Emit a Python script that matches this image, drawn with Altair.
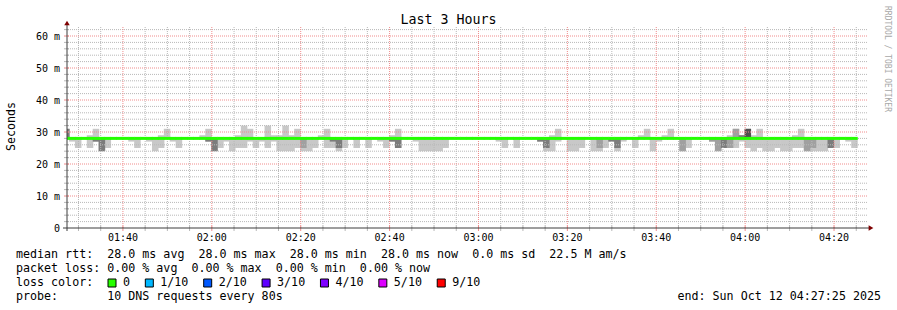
import altair as alt
import pandas as pd

# ---------------- data ----------------
title_text = "Last 3 Hours"
y_title = "Seconds"
watermark = "RRDTOOL / TOBI OETIKER"

window_start = "01:27:25"
window_end = "04:27:25"
first_step = "01:26:32"      # first (partly visible) 80 s step
step_seconds = 80

# smoke spread per 80 s step (ms), steps -1 .. 132 ; None = no spread
smoke_lo = [28, 27, 25, None, 25, 27, 24, 25, None, None,
            None, 27, 25, None, 27, 24, 25, 28, 27, 25,
            None, None, None, 28, 27, 24, 25, 27, 24, 25,
            25, 27, 25, 27, 25, 27, 24, 24, 24, 25,
            24, 24, 25, 28, 25, 25, 24, 25, None, 25,
            None, 25, None, 27, 25, 27, 25, None, None, 27,
            24, 24, 24, 24, 25, None, None, None, None, None,
            None, None, None, 27, 25, None, 25, None, None, None,
            27, 24, 24, 27, None, 24, 24, 25, None, 24,
            24, 25, 27, 24, 27, None, 25, 28, 28, 24,
            27, 28, 28, None, 24, 25, None, None, None, 27,
            24, 25, 25, 25, 27, 25, 24, 25, 24, 24,
            25, 24, 24, 25, 25, 24, 24, 24, 24, 25,
            25, None, 27, 25]
smoke_hi = [31, 28, 28, None, 29, 31, 28, 28, None, None,
            None, 28, 28, None, 28, 28, 29, 31, 28, 28,
            None, None, None, 29, 31, 28, 28, 28, 28, 29,
            32, 31, 28, 28, 32, 29, 29, 32, 29, 31,
            28, 28, 28, 29, 31, 28, 28, 28, None, 28,
            None, 28, None, 28, 28, 29, 31, None, None, 28,
            28, 28, 28, 28, 28, None, None, None, None, None,
            None, None, None, 28, 28, None, 28, None, None, None,
            28, 28, 29, 31, None, 28, 28, 28, None, 28,
            28, 28, 28, 28, 28, None, 28, 29, 31, 28,
            28, 29, 31, None, 28, 28, None, None, None, 28,
            28, 28, 29, 31, 29, 31, 29, 31, 28, 28,
            28, 28, 28, 29, 31, 28, 28, 28, 28, 28,
            28, None, 28, 28]
median_rtt = [28.0, 28.0, 28.0, 28.0, 28.0, 28.0, 28.0, 28.0, 28.0, 28.0,
              28.0, 28.0, 28.0, 28.0, 28.0, 28.0, 28.0, 28.0, 28.0, 28.0,
              28.0, 28.0, 28.0, 28.0, 28.0, 28.0, 28.0, 28.0, 28.0, 28.0,
              28.0, 28.0, 28.0, 28.0, 28.0, 28.0, 28.0, 28.0, 28.0, 28.0,
              28.0, 28.0, 28.0, 28.0, 28.0, 28.0, 28.0, 28.0, 28.0, 28.0,
              28.0, 28.0, 28.0, 28.0, 28.0, 28.0, 28.0, 28.0, 28.0, 28.0,
              28.0, 28.0, 28.0, 28.0, 28.0, 28.0, 28.0, 28.0, 28.0, 28.0,
              28.0, 28.0, 28.0, 28.0, 28.0, 28.0, 28.0, 28.0, 28.0, 28.0,
              28.0, 28.0, 28.0, 28.0, 28.0, 28.0, 28.0, 28.0, 28.0, 28.0,
              28.0, 28.0, 28.0, 28.0, 28.0, 28.0, 28.0, 28.0, 28.0, 28.0,
              28.0, 28.0, 28.0, 28.0, 28.0, 28.0, 28.0, 28.0, 28.0, 28.0,
              28.0, 28.0, 28.0, 28.0, 28.0, 28.0, 28.0, 28.0, 28.0, 28.0,
              28.0, 28.0, 28.0, 28.0, 28.0, 28.0, 28.0, 28.0, 28.0, 28.0,
              28.0, 28.0, 28.0, 28.0]

# denser smoke cores (steps numbered from -1)
core_step = [-1, 4, 5, 23, 24, 39, 44, 45, 54, 55, 79, 80, 89, 91, 92,
             103, 108, 109, 110, 111, 112, 113, 114, 124, 125, 128]
core_lo = [28, 27, 24, 27, 24, 25, 27, 25, 27, 25, 27, 25, 25, 27, 25,
           24, 27, 24, 25, 25, 28, 28, 28, 24, 25, 25]
core_hi = [31, 28, 28, 28, 28, 28, 28, 28, 28, 28, 28, 28, 28, 28, 28,
           28, 28, 28, 28, 28, 31, 29, 31, 28, 28, 28]
core_shade = ["dark", "dark", "dark", "dark", "dark", "mid", "dark", "dark",
              "dark", "dark", "dark", "dark", "mid", "dark", "dark", "mid",
              "mid", "mid", "dark", "mid", "mid", "dark", "darkest", "mid",
              "mid", "dark"]

x_tick_labels = ["01:40", "02:00", "02:20", "02:40", "03:00",
                 "03:20", "03:40", "04:00", "04:20"]
y_tick_values = [0, 10, 20, 30, 40, 50, 60]
y_tick_labels = ["0", "10 m", "20 m", "30 m", "40 m", "50 m", "60 m"]

median_stats = ["28.0", "28.0", "28.0", "28.0"]
median_sd = "0.0"
median_ams = "22.5 M"
loss_stats = ["0.00", "0.00", "0.00", "0.00"]
loss_labels = ["0", "1/10", "2/10", "3/10", "4/10", "5/10", "9/10"]
loss_colors = ["#26ff00", "#00b8ff", "#0059ff", "#5e00ff", "#7e00ff",
               "#dd00ff", "#ff0000"]
probe_text = "10 DNS requests every 80s"
end_text = "Sun Oct 12 04:27:25 2025"


# ---------------- helpers ----------------
def minutes(hms):
    p = [int(v) for v in hms.split(":")]
    return p[0] * 60 + p[1] + (p[2] if len(p) > 2 else 0) / 60.0


NB = "\u00a0"
FONT = "DejaVu Sans Mono"
OX, OY = 67, 27          # plot origin on the canvas
W, H = 800, 201
Y_TOP = (228 - 27) / 3.2  # ms at top edge of plot

t_first = minutes(first_step)
step_min = step_seconds / 60.0
x_dom = [minutes(window_start), minutes(window_end)]
xs = alt.Scale(domain=x_dom, nice=False, zero=False)
ys = alt.Scale(domain=[0, Y_TOP], nice=False, zero=False)
seam = 0.6 * (x_dom[1] - x_dom[0]) / W   # ~0.6 px overlap to hide AA seams

n = len(median_rtt)
steps = pd.DataFrame({
    "t0": [t_first + i * step_min for i in range(n)],
    "t1": [t_first + (i + 1) * step_min for i in range(n)],
    "lo": smoke_lo, "hi": smoke_hi, "med": median_rtt,
})
steps["t1s"] = steps["t1"] + seam
smoke = steps.dropna(subset=["lo", "hi"])
core = pd.DataFrame({
    "t0": [t_first + (k + 1) * step_min for k in core_step],
    "t1": [t_first + (k + 2) * step_min for k in core_step],
    "lo": core_lo, "hi": core_hi, "shade": core_shade,
})
core["t1s"] = core["t1"] + seam

major_x = [minutes(s) for s in x_tick_labels]
minor_x = [m for m in range(90, 270, 5) if m not in major_x and x_dom[0] < m < x_dom[1]]
major_y = [v for v in y_tick_values if v > 0]
minor_y = [v for v in range(2, 63, 2) if v % 10 != 0]


def one(**cols):
    return pd.DataFrame({k: [v] for k, v in cols.items()})


def text(txt, x, y, **kw):
    return alt.Chart(one(t=txt.replace(" ", NB))).mark_text(**kw).encode(
        x=alt.value(x), y=alt.value(y), text="t:N")


layers = []

# smoke
layers.append(alt.Chart(smoke).mark_rect(color="#c8c8c8", clip=True).encode(
    x=alt.X("t0:Q", scale=xs, axis=None), x2="t1s:Q",
    y=alt.Y("lo:Q", scale=ys, axis=None), y2="hi:Q"))
layers.append(alt.Chart(core).mark_rect(clip=True).encode(
    x=alt.X("t0:Q", scale=xs, axis=None), x2="t1s:Q",
    y=alt.Y("lo:Q", scale=ys, axis=None), y2="hi:Q",
    color=alt.Color("shade:N", legend=None,
                    scale=alt.Scale(domain=["mid", "dark", "darkest"],
                                    range=["#a0a0a0", "#7c7c7c", "#505050"]))))

# grid
grid_gray = "#b8b8b8"
grid_red = "#f08c8c"
for vals, col, ch in [(minor_y, grid_gray, "y"), (minor_x, grid_gray, "x"),
                      (major_y, grid_red, "y"), (major_x, grid_red, "x")]:
    enc = (alt.Y("v:Q", scale=ys, axis=None) if ch == "y"
           else alt.X("v:Q", scale=xs, axis=None))
    layers.append(alt.Chart(pd.DataFrame({"v": vals})).mark_rule(
        color=col, strokeDash=[1, 1], strokeWidth=1).encode(**{ch: enc}))

# small ticks on the axes
for vals, col in [(minor_x, grid_gray), (major_x, grid_red)]:
    layers.append(alt.Chart(pd.DataFrame({"v": vals})).mark_rule(
        color=col, strokeWidth=1).encode(
        x=alt.X("v:Q", scale=xs, axis=None), y=alt.value(H - 2), y2=alt.value(H + 3)))
for vals, col in [(minor_y, grid_gray), (major_y, grid_red)]:
    layers.append(alt.Chart(pd.DataFrame({"v": vals})).mark_rule(
        color=col, strokeWidth=1).encode(
        y=alt.Y("v:Q", scale=ys, axis=None), x=alt.value(-3), x2=alt.value(2)))

# median line
layers.append(alt.Chart(steps).mark_rule(
    color=loss_colors[0], strokeWidth=3, strokeCap="butt", clip=True).encode(
    x=alt.X("t0:Q", scale=xs, axis=None), x2="t1s:Q",
    y=alt.Y("med:Q", scale=ys, axis=None)))

# axes
axis_col = "#3c3c3c"
layers.append(alt.Chart(one(a=0)).mark_rule(color=axis_col, strokeWidth=1).encode(
    x=alt.value(0), y=alt.value(-4), y2=alt.value(H + 3)))
layers.append(alt.Chart(one(a=0)).mark_rule(color=axis_col, strokeWidth=1).encode(
    x=alt.value(-4), x2=alt.value(W + 2), y=alt.value(H)))
layers.append(alt.Chart(one(a=0)).mark_point(
    shape="triangle-up", filled=True, size=30, color="#7f0000", opacity=1).encode(
    x=alt.value(0), y=alt.value(-4)))
layers.append(alt.Chart(one(a=0)).mark_point(
    shape="triangle-right", filled=True, size=30, color="#7f0000", opacity=1).encode(
    x=alt.value(W + 4), y=alt.value(H)))

# tick labels
layers.append(alt.Chart(pd.DataFrame({"v": major_x, "lab": x_tick_labels})).mark_text(
    font=FONT, fontSize=10, align="center", baseline="alphabetic", color="black").encode(
    x=alt.X("v:Q", scale=xs, axis=None), y=alt.value(240.7 - OY), text="lab:N"))
ylabs = [(s + NB + NB) if v == 0 else s.replace(" ", NB)
         for v, s in zip(y_tick_values, y_tick_labels)]
layers.append(alt.Chart(pd.DataFrame({"v": y_tick_values, "lab": ylabs})).mark_text(
    font=FONT, fontSize=10, align="right", baseline="alphabetic", dy=3.6,
    color="black").encode(
    y=alt.Y("v:Q", scale=ys, axis=None), x=alt.value(60 - OX), text="lab:N"))

# title, y title, watermark
layers.append(text(title_text, 448.5 - OX, 24 - OY, font=FONT, fontSize=13.3,
                   align="center", baseline="alphabetic", color="black"))
layers.append(text(y_title, 15 - OX, 126.5 - OY, font=FONT, fontSize=11.6, angle=270,
                   align="center", baseline="alphabetic", color="black"))
layers.append(text(watermark, 885 - OX, 59 - OY, font=FONT, fontSize=8, angle=90,
                   align="center", baseline="alphabetic", color="#a8a8a8"))

# legend
LX = 16 - OX
CW = 7.02
LFS = 11.66
line1 = ("median rtt:  " + "  ".join(f"{v} ms {w}" for v, w in
         zip(median_stats, ["avg", "max", "min", "now"])) +
         f"  {median_sd} ms sd  {median_ams} am/s")
line2 = ("packet loss: " + "  ".join(f"{v} % {w}" for v, w in
         zip(loss_stats, ["avg", "max", "min", "now"])))
layers.append(text(line1, LX, 258 - OY, font=FONT, fontSize=LFS, align="left",
                   baseline="alphabetic", color="black"))
layers.append(text(line2, LX, 272 - OY, font=FONT, fontSize=LFS, align="left",
                   baseline="alphabetic", color="black"))
layers.append(text("loss color:", LX, 286 - OY, font=FONT, fontSize=LFS, align="left",
                   baseline="alphabetic", color="black"))
layers.append(text("probe:       " + probe_text, LX, 300 - OY, font=FONT, fontSize=LFS,
                   align="left", baseline="alphabetic", color="black"))
layers.append(text("end: " + end_text, 881 - OX, 300 - OY, font=FONT, fontSize=LFS,
                   align="right", baseline="alphabetic", color="black"))

bx, box_rows = 108.0, []
for lab, col in zip(loss_labels, loss_colors):
    box_rows.append({"bx": bx - OX, "bx2": bx + 8 - OX, "by": 279 - OY, "by2": 287 - OY,
                     "lx": bx + 15 - OX, "lab": lab, "col": col})
    bx = bx + 15 + len(lab) * CW + 15.3
boxes = pd.DataFrame(box_rows)
layers.append(alt.Chart(boxes).mark_rect(stroke="black", strokeWidth=1).encode(
    x=alt.X("bx:Q", scale=None), x2="bx2:Q",
    y=alt.Y("by:Q", scale=None), y2="by2:Q",
    fill=alt.Fill("col:N", scale=None)))
layers.append(alt.Chart(boxes).mark_text(
    font=FONT, fontSize=LFS, align="left", baseline="alphabetic", color="black").encode(
    x=alt.X("lx:Q", scale=None), y=alt.value(286 - OY), text="lab:N"))

chart = alt.layer(*layers).properties(
    width=W, height=H,
    autosize=alt.AutoSizeParams(type="none"),
    padding={"left": OX, "top": OY, "right": 897 - OX - W, "bottom": 310 - OY - H},
    background="white",
).configure_view(strokeWidth=0)

chart.save("out.html", embed_options={"renderer": "svg", "actions": False})
